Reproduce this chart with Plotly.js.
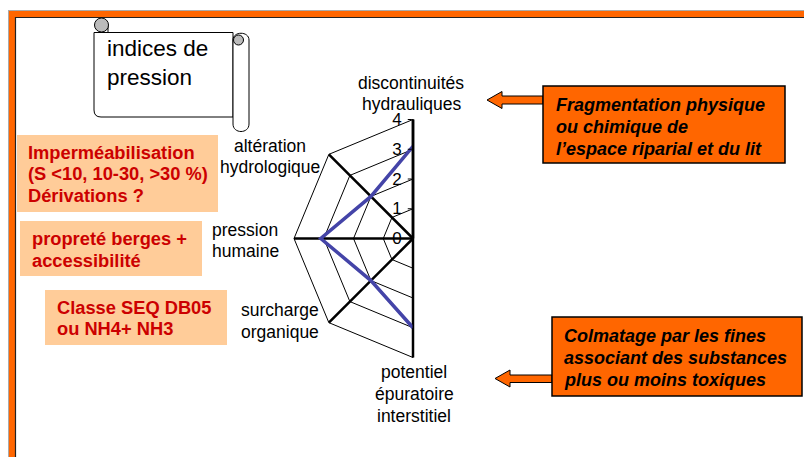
<!DOCTYPE html>
<html>
<head>
<meta charset="utf-8">
<script src="https://cdn.plot.ly/plotly-3.0.1.min.js"></script>
<style>html,body{margin:0;padding:0;background:#fff;}#chart{width:804px;height:457px;}</style>
</head>
<body>
<div id="chart"></div>
<script>
// ---- data ----
const categories = [
  'discontinuités<br>hydrauliques',
  'altération<br>hydrologique',
  'pression<br>humaine',
  'surcharge<br>organique',
  'potentiel<br>épuratoire<br>interstitiel'
];
const hiddenCategories = [' ', '  ', '   '];
const values = [3.1, 2, 3.1, 2, 3];
const radialTicks = [0, 1, 2, 3, 4];

const FONT = 'Arial, "Liberation Sans", sans-serif';
const W = 804, H = 457;

const shapes = [];
const annotations = [];

function addLines(lines, x, ys, xanchor, size, color, wrap) {
  lines.forEach((t, i) => {
    annotations.push({xref:'x', yref:'y', x:x, y:ys[i], xanchor:xanchor, yanchor:'middle', showarrow:false,
      text: wrap ? wrap(t) : t, font:{family:FONT, size:size, color:color}});
  });
}

// frame
shapes.push({type:'line', xref:'x', yref:'y', x0:8.5, x1:8.5, y0:10, y1:H+5, line:{color:'#aaaaaa', width:1}, layer:'below'});
shapes.push({type:'line', xref:'x', yref:'y', x0:8, x1:W+5, y0:10.5, y1:10.5, line:{color:'#aaaaaa', width:1}, layer:'below'});
shapes.push({type:'rect', xref:'x', yref:'y', x0:12, x1:W+20, y0:14, y1:H+20, line:{color:'#FF6600', width:6}, fillcolor:'rgba(0,0,0,0)', layer:'below'});
shapes.push({type:'line', xref:'x', yref:'y', x0:15.5, x1:15.5, y0:17, y1:H+5, line:{color:'#222', width:1.2}, layer:'below'});
shapes.push({type:'line', xref:'x', yref:'y', x0:15, x1:W+5, y0:17.5, y1:17.5, line:{color:'#222', width:1.2}, layer:'below'});

// scroll
shapes.push({type:'path', xref:'x', yref:'y', path:'M94,32.5 L94,110 Q94,117 101,117 L233,117 L233,32.5 Z', fillcolor:'#ffffff', line:{color:'#000', width:1}, layer:'below'});
shapes.push({type:'path', xref:'x', yref:'y', path:'M233,124 L233,40 C233,31 249,31 249,40 L249,124 C249,134 233,134 233,124 Z', fillcolor:'#ffffff', line:{color:'#000', width:1}, layer:'below'});
shapes.push({type:'rect', xref:'x', yref:'y', x0:100, x1:108, y0:26, y1:32.5, fillcolor:'#ffffff', line:{color:'#000', width:1}, layer:'below'});
shapes.push({type:'circle', xref:'x', yref:'y', x0:94.5, x1:108.5, y0:18, y1:32, fillcolor:'#bbbbbb', line:{color:'#000', width:1}, layer:'below'});
shapes.push({type:'circle', xref:'x', yref:'y', x0:233.5, x1:243.5, y0:35, y1:45, fillcolor:'#bbbbbb', line:{color:'#000', width:1}, layer:'below'});
addLines(['indices de', 'pression'], 105, [48.5, 77], 'left', 22.5, '#000');

// peach boxes
const bold = t => '<b>' + t + '</b>';
const boldItal = t => '<b><i>' + t + '</i></b>';
const peach = [
  {x0:17, x1:218, y0:135, y1:212, tx:26, ys:[152, 173.5, 195], lines:['Imperméabilisation', '(S &lt;10, 10-30, &gt;30 %)', 'Dérivations ?']},
  {x0:20, x1:202, y0:221, y1:276, tx:29.5, ys:[238.5, 260], lines:['propreté berges +', 'accessibilité']},
  {x0:45, x1:227, y0:290, y1:345, tx:55, ys:[307, 328.5], lines:['Classe SEQ DB05', 'ou NH4+ NH3']}
];
peach.forEach(p => {
  shapes.push({type:'rect', xref:'x', yref:'y', x0:p.x0, x1:p.x1, y0:p.y0, y1:p.y1, fillcolor:'#FFCC99', line:{width:0}, layer:'below'});
  addLines(p.lines, p.tx, p.ys, 'left', 18.3, '#CC0000', bold);
});

// orange boxes + arrows
shapes.push({type:'path', xref:'x', yref:'y', path:'M487,100 L502,91.5 L502,96 L543,96 L543,104 L502,104 L502,108.5 Z', fillcolor:'#FF6600', line:{color:'#000', width:1}, layer:'below'});
shapes.push({type:'rect', xref:'x', yref:'y', x0:543, x1:785, y0:86, y1:163, fillcolor:'#FF6600', line:{color:'#000', width:1.5}, layer:'below'});
addLines(['Fragmentation physique', 'ou chimique de', 'l’espace riparial et du lit'], 554, [105, 127, 148.5], 'left', 18, '#000', boldItal);
shapes.push({type:'path', xref:'x', yref:'y', path:'M495,378.5 L510,370 L510,375 L552,375 L552,382.5 L510,382.5 L510,387 Z', fillcolor:'#FF6600', line:{color:'#000', width:1}, layer:'below'});
shapes.push({type:'rect', xref:'x', yref:'y', x0:552, x1:802, y0:317, y1:396, fillcolor:'#FF6600', line:{color:'#000', width:1.5}, layer:'below'});
addLines(['Colmatage par les fines', 'associant des substances', 'plus ou moins toxiques'], 562, [335.5, 358, 380], 'left', 18, '#000', boldItal);

// category labels (placed beside the radar axes)
const catLabelPos = [
  {x:411, ys:[83, 104]},
  {x:270, ys:[145.5, 167]},
  {x:245, ys:[229.5, 250.5]},
  {x:279.5, ys:[310, 331.5]},
  {x:414, ys:[372, 394, 416]}
];
categories.forEach((c, i) => {
  addLines(c.split('<br>'), catLabelPos[i].x, catLabelPos[i].ys, 'center', 17.5, '#000');
});

const data = [
  {type:'scatter', x:[], y:[], xaxis:'x', yaxis:'y', showlegend:false, hoverinfo:'skip'},
  {type:'scatterpolar', r:values, theta:categories, mode:'lines',
   line:{color:'#4444A8', width:3.5}, showlegend:false, hoverinfo:'skip'}
];

const layout = {
  width:W, height:H,
  margin:{l:0, r:0, t:0, b:0},
  paper_bgcolor:'#ffffff', plot_bgcolor:'rgba(0,0,0,0)',
  showlegend:false,
  xaxis:{range:[0, W], visible:false, fixedrange:true},
  yaxis:{range:[H, 0], visible:false, fixedrange:true},
  polar:{
    domain:{x:[294/W, 413/W], y:[1-357.5/H, 1-119.5/H]},
    sector:[90, 270],
    gridshape:'linear',
    bgcolor:'rgba(0,0,0,0)',
    radialaxis:{range:[0, 4], tickvals:radialTicks, ticktext:radialTicks.map(String), angle:90, side:'counterclockwise',
      tickangle:90,
      showline:true, linecolor:'#000', linewidth:2.5, gridcolor:'#000', gridwidth:1,
      ticks:'outside', ticklen:4, tickcolor:'#000', tickfont:{family:FONT, size:17, color:'#000'}},
    angularaxis:{type:'category', categoryarray:categories.concat(hiddenCategories), rotation:90, direction:'counterclockwise',
      showline:true, linecolor:'#000', linewidth:1, gridcolor:'#000', gridwidth:2.5, ticks:'', showticklabels:false}
  },
  shapes:shapes,
  annotations:annotations,
  font:{family:FONT}
};

Plotly.newPlot('chart', data, layout, {staticPlot:true, displayModeBar:false});
</script>
</body>
</html>
